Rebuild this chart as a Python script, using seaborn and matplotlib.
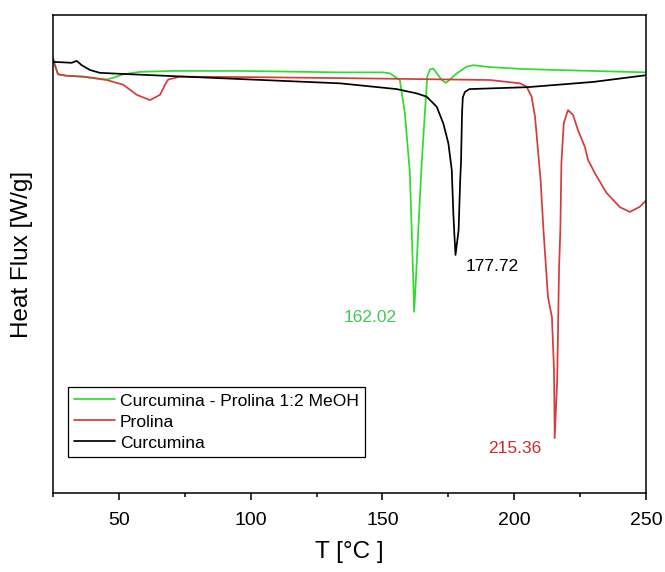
import numpy as np
import pandas as pd
import matplotlib
matplotlib.use("Agg")
import matplotlib.pyplot as plt
from matplotlib.ticker import MultipleLocator
import seaborn as sns

# DSC thermograms (temperature in °C, heat flux in W/g, endo down)
T_mix = [25, 25.7, 26.9, 30, 36.5, 45.4, 48, 51.7, 58, 70.5, 96, 134, 150,
         152.8, 156.6, 158.5, 160.4, 161.1, 161.7, 162.02, 162.7, 163.6, 164.9,
         166.1, 167.0, 168.0, 169.3, 170.6, 172.5, 174.1, 175.6, 178.2, 182.0,
         184.5, 190.8, 203.4, 222.4, 250]
hf_mix = [0.10, -0.05, -0.24, -0.27, -0.29, -0.35, -0.31, -0.24, -0.19, -0.17,
          -0.17, -0.20, -0.20, -0.22, -0.36, -1.05, -2.30, -3.50, -4.54, -5.21,
          -4.54, -3.50, -2.10, -1.05, -0.29, -0.14, -0.12, -0.22, -0.36, -0.42,
          -0.35, -0.22, -0.08, -0.05, -0.09, -0.13, -0.16, -0.20]

T_pro = [25, 25.7, 26.9, 30, 36.5, 45.4, 51.7, 56.8, 61.8, 65.6, 67.5, 68.7,
         73.2, 100, 134, 190.8, 202.2, 204.7, 206.6, 207.9, 210.0, 211.1, 212.8,
         214.3, 215.1, 215.36, 216.3, 217.0, 217.5, 217.9, 218.8, 220.4, 222.3,
         224.2, 226.8, 228.0, 230.6, 235.0, 240.1, 243.9, 247.7, 250]
hf_pro = [0.10, -0.05, -0.24, -0.27, -0.29, -0.36, -0.46, -0.67, -0.78, -0.67,
          -0.46, -0.35, -0.29, -0.30, -0.32, -0.36, -0.43, -0.50, -0.71, -1.13,
          -2.45, -3.50, -4.90, -5.32, -6.43, -7.85, -6.64, -4.33, -3.50, -2.10,
          -1.26, -0.99, -1.09, -1.41, -1.76, -2.03, -2.31, -2.72, -3.02, -3.12,
          -3.01, -2.88]

T_cur = [25, 32.1, 34.0, 35.9, 39.0, 42.8, 50.4, 83.4, 134, 155.4, 163.0,
         166.8, 170.6, 173.1, 175.0, 176.3, 176.9, 177.3, 177.72, 178.9, 179.5,
         179.8, 180.2, 180.5, 181.3, 183, 205, 230, 250]
hf_cur = [0.02, 0.00, 0.04, -0.05, -0.15, -0.21, -0.23, -0.31, -0.43, -0.55,
          -0.64, -0.71, -0.92, -1.27, -1.68, -2.24, -3.15, -3.60, -4.02, -3.50,
          -2.45, -2.10, -1.05, -0.72, -0.61, -0.55, -0.51, -0.40, -0.26]

series_names = ["Curcumina - Prolina 1:2 MeOH", "Prolina", "Curcumina"]
peak_T = [162.02, 177.72, 215.36]
peak_text = ["162.02", "177.72", "215.36"]

sns.set_style("white")
plt.rcParams["font.family"] = ["Liberation Sans", "DejaVu Sans"]
plt.rcParams["text.color"] = "black"
plt.rcParams["axes.labelcolor"] = "black"
plt.rcParams["xtick.color"] = "black"
plt.rcParams["ytick.color"] = "black"

colors = ["#2edc2e", "#d9393b", "#000000"]

fig = plt.figure(figsize=(6.65, 5.72), dpi=100)
ax = fig.add_axes([53 / 665, 1 - 493 / 572, 593 / 665, 478 / 572])

for name, T, hf, c in zip(series_names, [T_mix, T_pro, T_cur],
                          [hf_mix, hf_pro, hf_cur], colors):
    df = pd.DataFrame({"T": T, "hf": hf})
    sns.lineplot(data=df, x="T", y="hf", sort=False, estimator=None,
                 color=c, lw=1.25, label=name, ax=ax)

# peak annotations, placed beside each minimum
peak_series = [(T_mix, hf_mix), (T_cur, hf_cur), (T_pro, hf_pro)]
offsets = [(-16.7, -0.11), (13.8, -0.25), (-15.1, -0.21)]
for (T, hf), tp, txt, col, (dx, dy) in zip(peak_series, peak_T, peak_text,
                                            ["#3ccc4a", "#000000", "#cc2a2e"],
                                            offsets):
    yv = hf[T.index(tp)]
    ax.text(tp + dx, yv + dy, txt, color=col, fontsize=12.5,
            ha="center", va="center")

ax.set_xlim(25, 250)
ax.set_ylim(-9, 1)
ax.xaxis.set_major_locator(MultipleLocator(50))
ax.xaxis.set_minor_locator(MultipleLocator(25))
ax.set_yticks([])
ax.tick_params(axis="x", which="major", direction="out", length=5, width=1.1,
               labelsize=14, pad=9, bottom=True, top=False, color="black",
               labelcolor="black")
ax.tick_params(axis="x", which="minor", direction="out", length=3, width=1.1,
               bottom=True, top=False, color="black")
for s in ax.spines.values():
    s.set_visible(True)
    s.set_color("black")
    s.set_linewidth(1.1)

ax.set_xlabel("T [°C ]", fontsize=17.5, color="black")
ax.set_ylabel("Heat Flux [W/g]", fontsize=17.5, color="black")
ax.xaxis.label.set_va("center")
ax.yaxis.label.set_va("center")
ax.xaxis.set_label_coords(0.5, (493 - 552) / 478)
ax.yaxis.set_label_coords((22 - 53) / 593, 0.5)

leg = ax.legend(loc="upper left", bbox_to_anchor=(68 / 665, 1 - 387 / 572),
                bbox_transform=fig.transFigure, borderaxespad=0, fontsize=12.6,
                frameon=True, fancybox=False, shadow=False, framealpha=1,
                edgecolor="black", handlelength=2.3, handletextpad=0.3,
                labelspacing=0.33, borderpad=0.36)
leg.get_frame().set_linewidth(0.9)
for t in leg.get_texts():
    t.set_color("black")

fig.savefig("out.png", dpi=100)
